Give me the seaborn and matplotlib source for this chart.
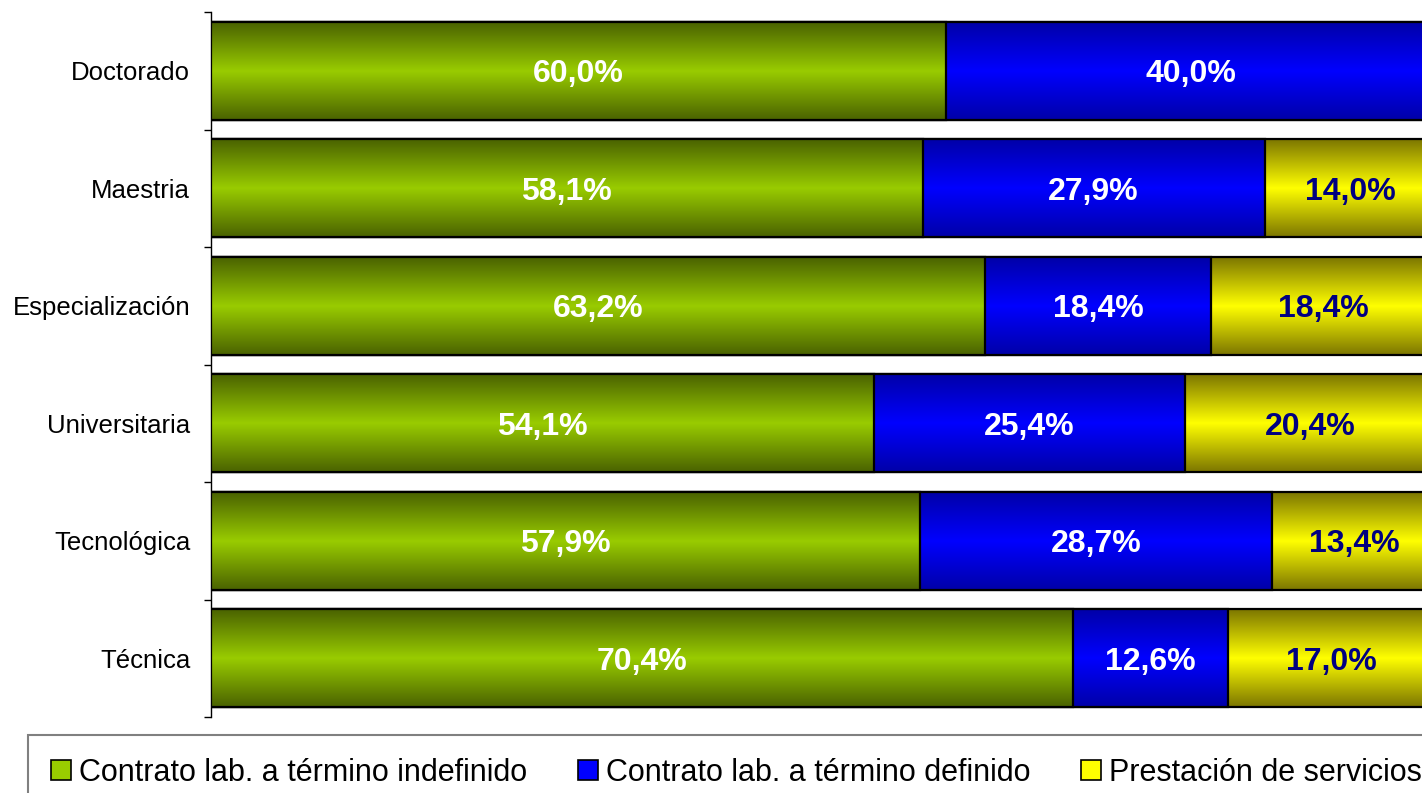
import numpy as np
import pandas as pd
import matplotlib
matplotlib.use("Agg")
import matplotlib.pyplot as plt
from matplotlib.colors import LinearSegmentedColormap
from matplotlib.patches import Patch
import seaborn as sns

# data
niveles = ["Doctorado", "Maestria", "Especialización", "Universitaria",
           "Tecnológica", "Técnica"]
indefinido = [60.0, 58.1, 63.2, 54.1, 57.9, 70.4]
definido = [40.0, 27.9, 18.4, 25.4, 28.7, 12.6]
prestacion = [0.0, 14.0, 18.4, 20.4, 13.4, 17.0]
series_names = ["Contrato lab. a término indefinido",
                "Contrato lab. a término definido",
                "Prestación de servicios"]

# (bright middle, dark edge, label colour)
styles = [("#99cc00", "#4a6200", "white"),
          ("#0000ff", "#0000a8", "white"),
          ("#ffff00", "#7c7600", "#000080")]

sns.set_style("white")
plt.rcParams["font.family"] = ["Liberation Sans", "DejaVu Sans"]

df = pd.DataFrame({"nivel": niveles, "ind": indefinido,
                   "def": definido, "pre": prestacion})
df["c1"] = df["ind"]
df["c2"] = df["ind"] + df["def"]
df["c3"] = df["c2"] + df["pre"]

fig = plt.figure(figsize=(14.22, 7.93), dpi=100)
ax = fig.add_axes([211 / 1422, 1 - 717 / 793, 1225 / 1422, 705 / 793])

# stacked bars: draw cumulative totals back to front
groups = []
for i, col in enumerate(["c3", "c2", "c1"]):
    n_before = len(ax.patches)
    sns.barplot(data=df, x=col, y="nivel", orient="y", color=styles[2 - i][0],
                saturation=1, width=0.83, errorbar=None, ax=ax)
    groups.append((2 - i, ax.patches[n_before:]))

grad = np.linspace(0, 1, 256).reshape(-1, 1)
for k, patches in groups:
    bright, dark, _ = styles[k]
    cmap = LinearSegmentedColormap.from_list(f"g{k}", [dark, bright, dark])
    z = 2 + (2 - k) * 2
    for p in patches:
        x0, y0 = p.get_x(), p.get_y()
        w, h = p.get_width(), p.get_height()
        if w <= 0:
            continue
        ax.imshow(grad, cmap=cmap, extent=[x0, x0 + w, y0, y0 + h],
                  aspect="auto", interpolation="bilinear", zorder=z)
        p.set_facecolor("none")
        p.set_edgecolor("black")
        p.set_linewidth(1.6)
        p.set_zorder(z + 1)

# value labels
vals = [indefinido, definido, prestacion]
for k in range(3):
    lefts = [0.0] * len(niveles) if k == 0 else \
        [sum(v[j] for v in vals[:k]) for j in range(len(niveles))]
    for j, v in enumerate(vals[k]):
        if v <= 0:
            continue
        ax.text(lefts[j] + v / 2, j, f"{v:.1f}%".replace(".", ","),
                ha="center", va="center_baseline", fontsize=23,
                fontweight="bold", color=styles[k][2], zorder=20)

ax.set_xlim(0, 100)
ax.set_ylim(len(niveles) - 0.5, -0.5)
ax.set_xlabel("")
ax.set_ylabel("")
ax.set_xticks([])
for s in ["top", "right", "bottom"]:
    ax.spines[s].set_visible(False)
ax.spines["left"].set_color("black")
ax.spines["left"].set_linewidth(1.0)
ax.tick_params(axis="y", which="major", length=0, labelsize=18.5, pad=15,
               labelcolor="black")
ax.set_yticks(np.arange(-0.5, len(niveles), 1), minor=True)
ax.tick_params(axis="y", which="minor", left=True, length=5, width=1.0,
               direction="out", color="black")

handles = [Patch(facecolor=styles[k][0], edgecolor="black", linewidth=1.2)
           for k in range(3)]
leg = fig.legend(handles, series_names, loc="upper left",
                 bbox_to_anchor=(28 / 1422, 1 - 735 / 793), ncol=3,
                 fontsize=22, frameon=True, fancybox=False, framealpha=1,
                 edgecolor="#808080", handlelength=0.65, handleheight=0.65,
                 handletextpad=0.26, columnspacing=1.67, borderpad=0.75,
                 borderaxespad=0)
leg.get_frame().set_linewidth(1.5)
for t in leg.get_texts():
    t.set_color("black")

fig.savefig("out.png", dpi=100)
